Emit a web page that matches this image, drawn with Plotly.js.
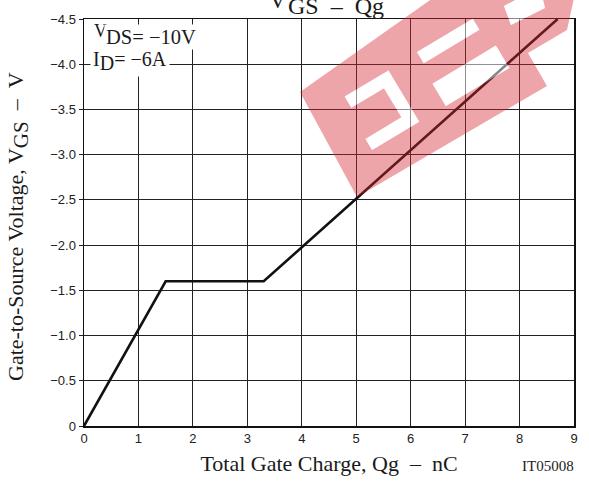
<!DOCTYPE html>
<html>
<head>
<meta charset="utf-8">
<script src="https://cdn.plot.ly/plotly-3.0.1.min.js"></script>
<style>html,body{margin:0;padding:0;background:#fff;}#chart{width:589px;height:481px;}</style>
</head>
<body>
<div id="chart"></div>
<script>
// Data
const qg = [0, 1.5, 3.3, 8.7];          // Total gate charge, nC
const vgs = [0, -1.6, -1.6, -4.5];       // Gate-to-source voltage, V
const xTicks = [0,1,2,3,4,5,6,7,8,9];
const yTickVals = [0,-0.5,-1.0,-1.5,-2.0,-2.5,-3.0,-3.5,-4.0,-4.5];
const yTickText = ['0','\u22120.5','\u22121.0','\u22121.5','\u22122.0','\u22122.5','\u22123.0','\u22123.5','\u22124.0','\u22124.5'];

const W = 589, H = 481, L = 84, R = 15, T = 19, B = 55;
const PW = W - L - R, PH = H - T - B;
function px(x){ return (x - L) / PW; }
function py(y){ return (H - B - y) / PH; }
// watermark frame (rotated)
const O = [300, 92], U = [0.857, -0.514], V = [0.514, 0.857];
function rp(s, t){ return [O[0] + U[0]*s + V[0]*t, O[1] + U[1]*s + V[1]*t]; }
function poly(pts){ return 'M' + pts.map(p => px(p[0]).toFixed(4) + ',' + py(p[1]).toFixed(4)).join(' L') + ' Z'; }
function rpts(st){ return st.map(a => rp(a[0], a[1])); }

const hole1 = rpts([[36,27],[87,27],[87,87],[32,87],[32,74],[74,74],[74,40],[36,40]]);
const hole2 = rpts([[121,26],[186,26],[186,39],[121,39]]);
const hole3 = rpts([[118,61],[192,61],[192,87],[118,87]]);
const hole4 = [[504,6],[540,-13],[545,8],[511,25]];
const redOuter = [[300,92],[357,197],[547,86],[528,53],[567,30],[574,-2],[433,-2]];
const holes = [hole1, hole2, hole3, hole4];

const redPath = poly(redOuter) + ' ' + holes.map(poly).join(' ');

const shapes = [
  {type:'path', xref:'paper', yref:'paper', path: redPath, fillrule:'evenodd',
   fillcolor:'rgb(214,40,50)', opacity:0.42, line:{width:0}, layer:'above'}
];
holes.forEach(h => shapes.push({type:'path', xref:'paper', yref:'paper', path: poly(h),
   fillcolor:'#ffffff', opacity:0.5, line:{width:0}, layer:'above'}));

const serif = 'Liberation Serif, Times New Roman, serif';
const sans = 'Liberation Sans, Arial, sans-serif';
const NB = '\u00a0';

const trace = {x: qg, y: vgs, mode:'lines', type:'scatter',
  line:{color:'#111', width:2.6}, hoverinfo:'skip'};

function txt(text, x, yTop, size, anchor, extra){
  return Object.assign({xref:'paper', yref:'paper', x:px(x), y:py(yTop), xanchor:anchor||'left', yanchor:'top',
    showarrow:false, text:text, borderpad:1, font:{family:serif, size:size, color:'#1a1a1a'}}, extra||{});
}

const layout = {
  width: W, height: H,
  margin:{l:L, r:R, t:T, b:B, pad:0},
  paper_bgcolor:'#fff', plot_bgcolor:'#fff',
  showlegend:false,
  xaxis:{range:[0,9], tickvals:xTicks, ticktext:xTicks.map(String),
    showgrid:true, gridcolor:'#222', gridwidth:1, zeroline:false,
    showline:true, linecolor:'#111', linewidth:1.5, mirror:true,
    ticks:'', ticklen:0, tickfont:{family:sans, size:13, color:'#222'},
    title:{text:'Total Gate Charge, Qg' + NB + NB + '\u2013' + NB + NB + 'nC', font:{family:serif, size:22, color:'#1a1a1a'}, standoff:10}},
  yaxis:{range:[0,-4.5], tickvals:yTickVals, ticktext:yTickText,
    showgrid:true, gridcolor:'#222', gridwidth:1, zeroline:false,
    showline:true, linecolor:'#111', linewidth:1.5, mirror:true,
    ticks:'outside', ticklen:4, tickcolor:'#222', tickfont:{family:sans, size:13, color:'#222'}},
  shapes: shapes,
  annotations:[
    // chart title (cut at the top edge as in the reference)
    txt('V', 267, -15, 24),
    txt('GS' + NB + NB + '\u2013' + NB + NB + 'Qg', 286, -9, 24),
    // conditions
    txt('V', 92, 19, 18, 'left', {bgcolor:'#fff'}),
    txt('DS= \u221210V', 104, 24, 20.5, 'left', {bgcolor:'#fff'}),
    txt('I<sub><span style="font-size:20px">D</span></sub>= \u22126A', 90, 45, 20, 'left', {bgcolor:'#fff', borderpad:2}),
    // y axis title
    {xref:'paper', yref:'paper', x:px(18), y:py(227), xanchor:'center', yanchor:'middle', textangle:-90, showarrow:false,
     text:'Gate-to-Source Voltage, V<sub><span style="font-size:21px">GS</span></sub>' + NB + NB + '\u2013' + NB + NB + 'V',
     font:{family:serif, size:22, color:'#1a1a1a'}},
    // figure code
    {xref:'paper', yref:'paper', x:px(576), y:py(466), xanchor:'right', yanchor:'middle', showarrow:false,
     text:'IT05008', font:{family:serif, size:15, color:'#222'}}
  ]
};

Plotly.newPlot('chart', [trace], layout, {staticPlot:true, displayModeBar:false});
</script>
</body>
</html>
